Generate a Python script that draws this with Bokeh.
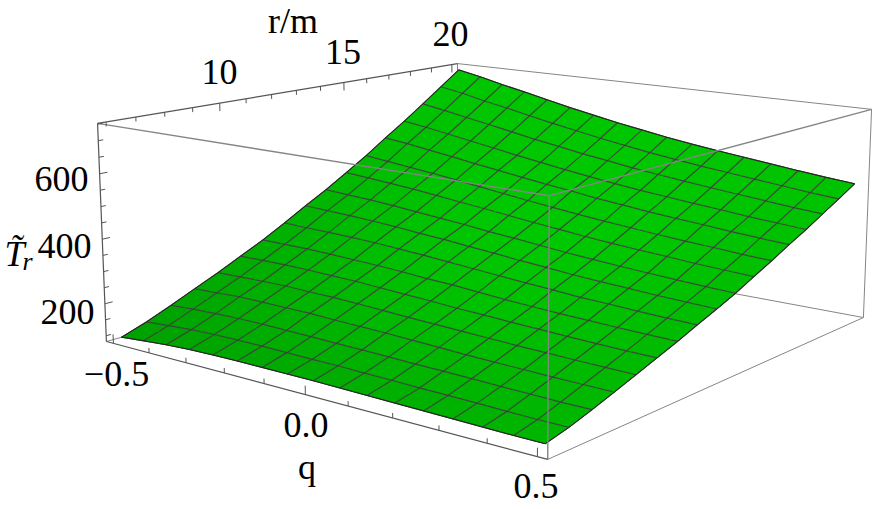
import numpy as np
from bokeh.plotting import figure
from bokeh.models import Range1d
from bokeh.embed import file_html
from bokeh.resources import INLINE
from bokeh.core.properties import value

q_box=(-.52,.52); r_box=(5.72,20.28); z_box=(82.,752.)
q_mesh=[-.5+i/16 for i in range(17)]
r_mesh=[6+.875*j for j in range(17)]
q_ticks=[-.5,-.4,-.3,-.2,-.1,0,.1,.2,.3,.4,.5]
r_ticks=list(range(6,21))
z_ticks=list(range(100,751,50))
# T values along q, one list per r mesh line
T_r00=[94,101,107,111,113,114,114,114,114,113,112,111,110,109,108,107,107]
T_r01=[120,126,131,134,135,135,134,133,133,131,130,128,127,126,124,123,123]
T_r02=[151,156,159,161,161,160,159,157,156,154,152,151,149,147,146,144,144]
T_r03=[184,187,191,191,190,190,187,185,183,180,177,174,172,170,168,167,166]
T_r04=[216,218,220,221,219,218,215,212,208,205,202,199,196,194,192,190,189]
T_r05=[251,252,253,252,250,248,244,240,236,231,228,224,221,218,215,213,212]
T_r06=[286,286,286,284,281,278,274,268,265,259,253,249,245,242,239,237,235]
T_r07=[325,323,322,320,317,312,307,301,295,289,283,278,272,269,265,262,260]
T_r08=[366,363,360,356,351,344,339,331,325,317,311,304,299,295,290,287,284]
T_r09=[405,400,396,390,383,376,369,360,354,346,338,332,326,321,316,312,309]
T_r10=[448,442,436,429,421,412,404,395,386,378,370,363,357,352,346,342,338]
T_r11=[492,484,475,467,457,447,437,427,418,409,401,394,387,381,376,370,366]
T_r12=[540,531,520,509,497,486,475,464,455,444,436,427,420,414,407,401,396]
T_r13=[586,575,562,549,536,522,510,498,487,476,467,459,451,444,436,430,424]
T_r14=[635,622,607,593,578,563,550,536,525,513,503,494,485,477,469,461,455]
T_r15=[685,671,653,638,621,605,590,575,562,549,538,528,519,510,501,492,485]
T_r16=[735,719,700,683,665,647,631,615,601,587,575,564,554,544,534,525,517]
grid=np.array([T_r00,T_r01,T_r02,T_r03,T_r04,T_r05,T_r06,T_r07,T_r08,T_r09,T_r10,T_r11,T_r12,T_r13,T_r14,T_r15,T_r16],dtype=float)

# camera calibrated on the drawn box's corners
corners=[(0,0,1,97,123),(0,0,0,106,341),(1,0,0,547,459),(1,0,1,549,195),(0,1,1,457,63),(1,1,1,871,109),(1,1,0,863,317)]
A=[]
for a,b,c,x,y in corners:
    X=[a,b,c,1.];x/=1000;y/=1000
    A.append(X+[0]*4+[-x*k for k in X]);A.append([0]*4+X+[-y*k for k in X])
P=np.linalg.svd(np.array(A))[2][-1].reshape(3,4)
def proj(q,r,z):
    h=P@np.array([(q-q_box[0])/(q_box[1]-q_box[0]),(r-r_box[0])/(r_box[1]-r_box[0]),(z-z_box[0])/(z_box[1]-z_box[0]),1.])
    return h[0]/h[2]*1000,h[1]/h[2]*1000

p=figure(width=872,height=509,output_backend="svg",toolbar_location=None,x_range=Range1d(0,872),y_range=Range1d(509,0),min_border=0)
p.axis.visible=False;p.grid.visible=False;p.outline_line_color=None

def seg(a,b,color,w=1.0):
    pa=proj(*a);pb=proj(*b)
    p.line([pa[0],pb[0]],[pa[1],pb[1]],line_color=color,line_width=w)
q0,q1=q_box;r0,r1=r_box;z0,z1=z_box
GR="#858585";DK="#555555"
seg((q0,r1,z1),(q1,r1,z1),GR);seg((q1,r1,z1),(q1,r1,z0),GR);seg((q1,r1,z0),(q1,r0,z0),GR);seg((q1,r1,z0),(q0,r1,z0),GR)
seg((q0,r0,z0),(q0,r1,z0),GR);seg((q0,r1,z1),(q0,r1,z0),GR)

xs=[];ys=[];cols=[]
XY=np.array([[proj(q_mesh[i],r_mesh[j],grid[j][i]) for i in range(17)] for j in range(17)])
shade=(160,182,200,196)
for j in range(16):
    for i in range(16):
        c=[XY[j][i],XY[j][i+1],XY[j+1][i+1],XY[j+1][i]]
        xs.append([k[0] for k in c]);ys.append([k[1] for k in c])
        u=(i+.5)/16;v=(j+.5)/16
        g=(1-u)*(1-v)*shade[0]+u*(1-v)*shade[1]+(1-u)*v*shade[2]+u*v*shade[3]
        g=min(g+14*np.sin(np.pi*u)*np.sin(np.pi*v),200)
        cols.append("#00%02x00"%int(g))
p.patches(xs,ys,fill_color=cols,line_color=cols,line_width=.6)
mx=[list(XY[j,:,0]) for j in range(17)]+[list(XY[:,i,0]) for i in range(17)]
my=[list(XY[j,:,1]) for j in range(17)]+[list(XY[:,i,1]) for i in range(17)]
p.multi_line(mx,my,line_color="#3c3c3c",line_width=1.2,line_alpha=.88)
bx=list(XY[0,:,0])+list(XY[:,-1,0])+list(XY[-1,::-1,0])+list(XY[::-1,0,0])
by=list(XY[0,:,1])+list(XY[:,-1,1])+list(XY[-1,::-1,1])+list(XY[::-1,0,1])
p.line(bx,by,line_color="#1a1a1a",line_width=.9,line_alpha=.9)

seg((q0,r0,z1),(q1,r0,z1),GR,1.4);seg((q1,r0,z1),(q1,r1,z1),GR,1.4);seg((q1,r0,z1),(q1,r0,z0),GR,1.4)
seg((q0,r0,z0),(q1,r0,z0),DK,1.2);seg((q0,r0,z0),(q0,r0,z1),DK,1.2);seg((q0,r0,z1),(q0,r1,z1),DK,1.2)
def tick(a,d,L,color=DK):
    pa=proj(*a);pb=proj(a[0]+d[0],a[1]+d[1],a[2]+d[2])
    n=np.hypot(pb[0]-pa[0],pb[1]-pa[1])
    p.line([pa[0],pa[0]+(pb[0]-pa[0])/n*L],[pa[1],pa[1]+(pb[1]-pa[1])/n*L],line_color=color,line_width=1)
for t in q_ticks:
    tick((t,r0,z0),(0,0,1),9 if t in(-.5,0,.5) else 5)
for t in r_ticks:
    tick((q0,t,z1),(0,0,-1),8 if t in(10,15,20) else 4.5)
for t in z_ticks:
    tick((q0,r0,t),(0,1,0),8 if t in(200,400,600) else 5)

labels=[("600",88,178,"right"),("400",91,245,"right"),("200",94,311,"right"),("10",219,71,"center"),("15",342.5,51,"center"),("20",450,33,"center"),("r/m",292.5,20,"center"),("\u22120.5",116,373,"center"),("0.0",305.5,424,"center"),("q",306.5,466,"center"),("0.5",535.5,485,"center")]
for s,x,y,al in labels:
    p.text([x],[y],text=[s],text_font=value("Liberation Serif"),text_font_size="36px",text_align=al,text_baseline="middle",text_color="black")
p.text([4],[253],text=["T\u0303"],text_font=value("Liberation Serif"),text_font_style="italic",text_font_size="36px",text_align="left",text_baseline="middle",text_color="black")
p.text([22],[261],text=["r"],text_font=value("Liberation Serif"),text_font_style="italic",text_font_size="26px",text_align="left",text_baseline="middle",text_color="black")
open("out.html","w").write(file_html(p,INLINE))
